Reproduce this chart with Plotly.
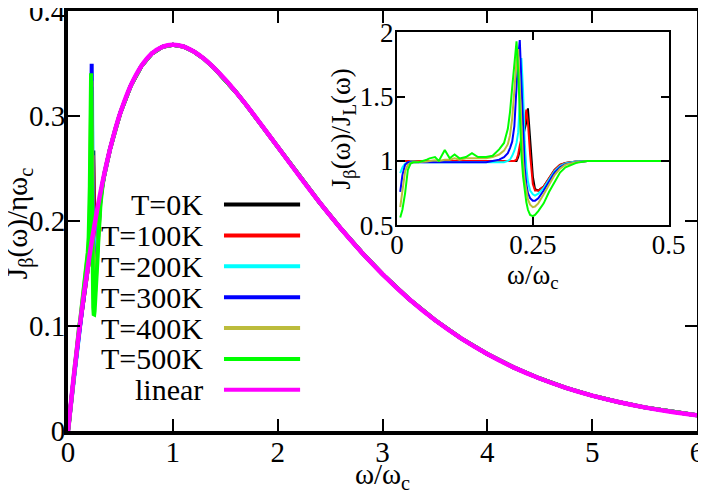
import numpy as np
import plotly.graph_objects as go

# main panel: linear spectral density J_L(w)/(eta w_c)
w_main = [0, 0.05, 0.1, 0.15, 0.2, 0.25, 0.3, 0.35, 0.4, 0.45, 0.5, 0.6, 0.7, 0.8, 0.9,
          1.0, 1.1, 1.2, 1.3, 1.4, 1.5, 1.6, 1.7, 1.8, 1.9, 2.0, 2.2, 2.4, 2.6, 2.8,
          3.0, 3.25, 3.5, 3.75, 4.0, 4.25, 4.5, 4.75, 5.0, 5.25, 5.5, 5.75, 6.0]
J_linear = [0, 0.0476, 0.0905, 0.1291, 0.1637, 0.1947, 0.2222, 0.2466, 0.2681, 0.2869, 0.3033,
            0.3293, 0.3476, 0.3595, 0.3659, 0.3679, 0.3662, 0.3614, 0.3543, 0.3452, 0.3347,
            0.3230, 0.3106, 0.2975, 0.2842, 0.2707, 0.2438, 0.2177, 0.1931, 0.1703, 0.1494,
            0.1260, 0.1057, 0.0882, 0.0733, 0.0606, 0.0500, 0.0411, 0.0337, 0.0276, 0.0225,
            0.0183, 0.0149]

# inset grid (low frequency region)
w_in = [0.006, 0.01, 0.015, 0.02, 0.025, 0.03, 0.04, 0.05, 0.055, 0.06, 0.07, 0.077, 0.088,
        0.097, 0.106, 0.115, 0.127, 0.138, 0.149, 0.164, 0.176, 0.188, 0.197, 0.204, 0.208,
        0.212, 0.216, 0.22, 0.223, 0.226, 0.229, 0.232, 0.235, 0.238, 0.241, 0.245, 0.25,
        0.254, 0.26, 0.27, 0.28, 0.29, 0.3, 0.31, 0.33, 0.35, 0.4, 0.45, 0.5]
J_linear_in = [0.00596, 0.0099, 0.01478, 0.0196, 0.02438, 0.02911, 0.03843, 0.04756, 0.05206,
               0.05651, 0.06527, 0.07129, 0.08059, 0.08803, 0.09534, 0.10251, 0.11185, 0.12019,
               0.12829, 0.13907, 0.14755, 0.1558, 0.16189, 0.16642, 0.16896, 0.17155, 0.17403,
               0.17655, 0.17842, 0.18028, 0.18213, 0.18396, 0.18578, 0.18759, 0.18939, 0.19176,
               0.1947, 0.19703, 0.20047, 0.20611, 0.21162, 0.217, 0.22225, 0.22737, 0.23724,
               0.24664, 0.26813, 0.28693, 0.30327]

# J_beta / J_L for each temperature
ratio_0K = [1.0, 1.0, 1.0, 0.995, 0.995, 0.995, 0.995, 0.995, 0.995, 0.995, 0.995, 0.995, 0.995,
            0.995, 0.995, 0.995, 0.995, 0.995, 0.995, 0.995, 0.995, 0.995, 0.995, 0.995, 0.995,
            0.995, 1.0, 1.0, 1.03, 1.08, 1.14, 1.2, 1.25, 1.3, 1.41, 1.2, 0.88, 0.78, 0.77,
            0.8, 0.87, 0.93, 0.97, 0.985, 0.995, 1.0, 1.0, 1.0, 1.0]
ratio_100K = [1.0, 1.0, 1.0, 0.995, 0.995, 0.995, 0.995, 0.995, 0.995, 0.995, 0.995, 0.995, 0.995,
              0.995, 0.995, 0.995, 0.995, 0.995, 0.995, 0.995, 0.995, 0.995, 0.995, 0.995, 0.995,
              0.995, 1.0, 1.01, 1.05, 1.12, 1.18, 1.23, 1.28, 1.4, 1.3, 1.05, 0.82, 0.77, 0.77,
              0.8, 0.87, 0.93, 0.97, 0.985, 0.995, 1.0, 1.0, 1.0, 1.0]
ratio_200K = [0.905, 0.95, 0.98, 0.99, 0.995, 0.995, 0.99, 0.99, 0.99, 0.99, 0.99, 0.99, 0.99,
              0.99, 0.99, 0.99, 0.99, 0.99, 0.99, 0.99, 0.99, 0.99, 0.99, 1.0, 1.01,
              1.04, 1.08, 1.14, 1.22, 1.46, 1.8, 1.55, 1.15, 0.95, 0.84, 0.77, 0.74, 0.73, 0.745,
              0.79, 0.86, 0.92, 0.96, 0.98, 0.995, 1.0, 1.0, 1.0, 1.0]
ratio_300K = [0.76, 0.89, 0.97, 0.99, 0.99, 0.99, 0.99, 0.99, 0.99, 0.99, 0.99, 0.99, 0.99,
              0.99, 0.99, 0.99, 0.99, 0.99, 0.99, 0.99, 1.0, 1.01, 1.03, 1.06, 1.1,
              1.15, 1.27, 1.6, 1.8, 1.94, 1.6, 1.2, 0.95, 0.82, 0.75, 0.71, 0.69, 0.69, 0.71,
              0.77, 0.84, 0.91, 0.95, 0.975, 0.99, 1.0, 1.0, 1.0, 1.0]
ratio_400K = [0.64, 0.75, 0.92, 0.97, 0.985, 0.99, 0.99, 0.99, 0.995, 1.0, 1.005, 1.0, 1.01,
              1.01, 1.02, 1.01, 1.02, 1.02, 1.02, 1.02, 1.03, 1.05, 1.08, 1.13, 1.2,
              1.33, 1.55, 1.78, 1.87, 1.6, 1.25, 1.0, 0.85, 0.76, 0.7, 0.66, 0.64, 0.645, 0.67,
              0.74, 0.82, 0.89, 0.94, 0.97, 0.99, 1.0, 1.0, 1.0, 1.0]
ratio_500K = [0.56, 0.62, 0.75, 0.93, 0.98, 0.99, 0.99, 1.0, 1.01, 1.02, 1.03, 1.0, 1.085,
              1.02, 1.05, 1.02, 1.03, 1.06, 1.03, 1.03, 1.04, 1.09, 1.14, 1.25, 1.38,
              1.57, 1.75, 1.93, 1.7, 1.35, 1.05, 0.88, 0.76, 0.68, 0.62, 0.58, 0.57, 0.58, 0.61,
              0.67, 0.76, 0.84, 0.91, 0.95, 0.985, 1.0, 1.0, 1.0, 1.0]

labels = ["T=0K", "T=100K", "T=200K", "T=300K", "T=400K", "T=500K", "linear"]
colors = ["#000000", "#ff0000", "#00ffff", "#0000ff", "#bcbc3c", "#00ff00", "#ff00ff"]
ratios = [ratio_0K, ratio_100K, ratio_200K, ratio_300K, ratio_400K, ratio_500K]

FONT = "Liberation Serif"

w_tail = [w for w in w_main if w > 0.5]
J_tail = [j for w, j in zip(w_main, J_linear) if w > 0.5]

fig = go.Figure()

for name, col, r in zip(labels, colors, ratios):
	y = np.concatenate([[0], np.array(J_linear_in) * np.array(r), J_tail])
	x = np.concatenate([[0], w_in, w_tail])
	fig.add_trace(go.Scatter(x=x, y=y, mode="lines", name=name, line=dict(color=col, width=4),
	                         xaxis="x", yaxis="y", showlegend=False))
fig.add_trace(go.Scatter(x=w_main, y=J_linear, mode="lines", name="linear",
                         line=dict(color=colors[6], width=4.5, shape="spline"),
                         xaxis="x", yaxis="y", showlegend=False))

for name, col, r in zip(labels, colors, ratios):
	fig.add_trace(go.Scatter(x=w_in, y=r, mode="lines", name=name, line=dict(color=col, width=2),
	                         xaxis="x2", yaxis="y2", showlegend=False))

# legend drawn by hand: text on the left, line sample on the right
for i, (lab, col) in enumerate(zip(labels, colors)):
	yy = 0.539 - i * 0.0735
	fig.add_annotation(x=0.218, y=yy, xref="paper", yref="paper", text=lab, showarrow=False,
	                   xanchor="right", yanchor="middle", font=dict(family=FONT, size=30, color="black"))
	fig.add_shape(type="line", x0=0.248, x1=0.369, y0=yy, y1=yy, xref="paper", yref="paper",
	              line=dict(color=col, width=4))

# main y title as a rotated annotation so it sits where the reference has it
fig.add_annotation(x=-0.076, y=0.493, xref="paper", yref="paper", showarrow=False, textangle=-90,
                   xanchor="center", yanchor="middle", text="J<sub>β</sub>(ω)/ηω<sub>c</sub>",
                   font=dict(family=FONT, size=29, color="black"))

main_ax = dict(showline=True, linewidth=4, linecolor="black", mirror="allticks", ticks="inside",
               ticklen=12, tickwidth=2, tickcolor="black", showgrid=False, zeroline=False,
               automargin=False, ticklabeloverflow="allow",
               tickfont=dict(family=FONT, size=29, color="black"))
inset_ax = dict(showline=True, linewidth=2, linecolor="black", mirror="allticks", ticks="inside",
                ticklen=8, tickwidth=1.5, tickcolor="black", showgrid=False, zeroline=False,
                automargin=False, tickfont=dict(family=FONT, size=27, color="black"))

# the page body adds an 8 px offset, so the figure is 8 px smaller than the window
fig.update_layout(
	width=698, height=486,
	margin=dict(l=60, r=9, t=3, b=63),
	paper_bgcolor="white", plot_bgcolor="white",
	font=dict(family=FONT, color="black"),
	xaxis=dict(main_ax, domain=[0, 1], range=[0, 6], tickvals=[0, 1, 2, 3, 4, 5, 6], ticklabelstandoff=-8,
	           title=dict(text="ω/ω<sub>c</sub>", font=dict(family=FONT, size=29, color="black"), standoff=0)),
	yaxis=dict(main_ax, domain=[0, 1], range=[0, 0.4], tickvals=[0, 0.1, 0.2, 0.3, 0.4], ticklabelstandoff=-7),
	xaxis2=dict(inset_ax, domain=[0.523, 0.955], anchor="y2", range=[0, 0.5], tickvals=[0, 0.25, 0.5], ticklabelstandoff=-6,
	            title=dict(text="ω/ω<sub>c</sub>", font=dict(family=FONT, size=27, color="black"), standoff=0)),
	yaxis2=dict(inset_ax, domain=[0.49, 0.949], anchor="x2", range=[0.5, 2], tickvals=[0.5, 1, 1.5, 2], ticklabelstandoff=-4,
	            title=dict(text="J<sub>β</sub>(ω)/J<sub>L</sub>(ω)", font=dict(family=FONT, size=27, color="black"), standoff=0)),
)

fig.write_html("out.html")
